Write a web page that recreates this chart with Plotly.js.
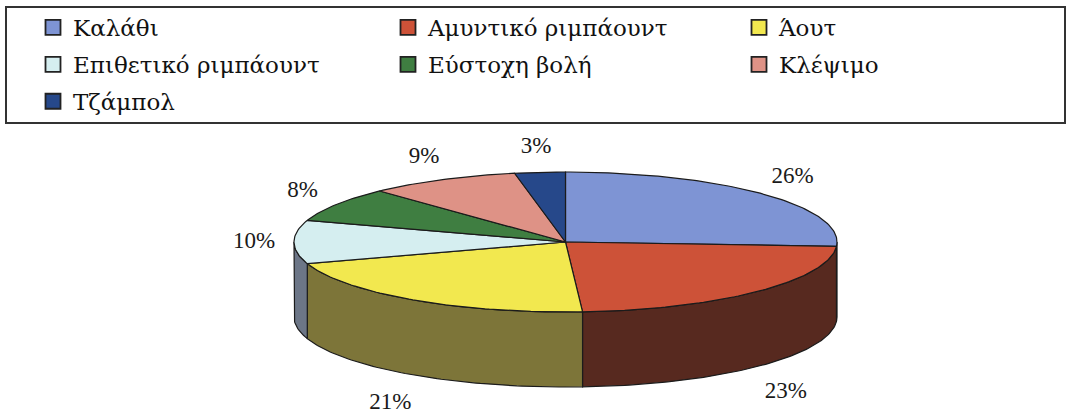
<!DOCTYPE html>
<html>
<head>
<meta charset="utf-8">
<script src="https://cdn.plot.ly/plotly-3.0.1.min.js"></script>
<style>
  html, body { margin: 0; padding: 0; background: #fff; }
  #chart { width: 1067px; height: 415px; }
</style>
</head>
<body>
<div id="chart"></div>
<script>
// ---- data ----
const categories = ["Καλάθι", "Αμυντικό ριμπάουντ", "Άουτ", "Επιθετικό ριμπάουντ", "Εύστοχη βολή", "Κλέψιμο", "Τζάμπολ"];
const percentages = [26, 23, 21, 10, 8, 9, 3];

// ---- style ----
const topColors  = ["#7E94D4", "#CD5238", "#F2E84F", "#D5EEF0", "#3F7E41", "#DE9286", "#26488A"];
const sideColors = ["#3E4A6C", "#57291F", "#7D7539", "#6C7687", "#1F3F21", "#704943", "#132446"];
const legendCol  = ["legend", "legend2", "legend3", "legend", "legend2", "legend3", "legend"];
const LABEL_FONT = "Liberation Serif";
const LEGEND_FONT = "DejaVu Serif";
const geo = { cx: 565.5, cy: 242, rx: 271.5, ry: 70, depth: 75 };

function pt(deg, dy) {
  const r = deg * Math.PI / 180;
  return [geo.cx + geo.rx * Math.sin(r), geo.cy - geo.ry * Math.cos(r) + (dy || 0)];
}
function arc(a, b, dy) {
  const out = [];
  const n = Math.max(2, Math.ceil(Math.abs(b - a)));
  for (let i = 0; i <= n; i++) out.push(pt(a + (b - a) * i / n, dy));
  return out;
}

const total = percentages.reduce((s, v) => s + v, 0);
const starts = [], ends = [];
let acc = 0;
percentages.forEach(v => { starts.push(acc / total * 360); acc += v; ends.push(acc / total * 360); });

const traces = [];
// side walls (front half only)
percentages.forEach((v, i) => {
  const lo = Math.max(starts[i], 90), hi = Math.min(ends[i], 270);
  if (hi <= lo) return;
  const pts = arc(lo, hi, 0).concat(arc(hi, lo, geo.depth));
  pts.push(pts[0]);
  traces.push({
    type: "scatter", mode: "lines", fill: "toself",
    x: pts.map(p => p[0]), y: pts.map(p => p[1]),
    fillcolor: sideColors[i], line: { color: "#1b1b1b", width: 1.2 },
    hoverinfo: "skip", showlegend: false
  });
});
// top faces
percentages.forEach((v, i) => {
  const pts = [[geo.cx, geo.cy]].concat(arc(starts[i], ends[i], 0));
  pts.push([geo.cx, geo.cy]);
  traces.push({
    type: "scatter", mode: "lines", fill: "toself",
    x: pts.map(p => p[0]), y: pts.map(p => p[1]),
    fillcolor: topColors[i], line: { color: "#1b1b1b", width: 1.2 },
    hoverinfo: "text", text: categories[i] + ": " + v + "%", hoveron: "fills",
    showlegend: false
  });
});
// percentage labels
const lx = [], ly = [], lt = [];
percentages.forEach((v, i) => {
  const m = (starts[i] + ends[i]) / 2 * Math.PI / 180;
  const c = Math.cos(m), s = Math.sin(m);
  lx.push(geo.cx + (geo.rx + 40) * s);
  ly.push(c > -0.1 ? geo.cy - (geo.ry + 25) * c : geo.cy - (geo.ry + 25) * c + geo.depth + 8);
  lt.push(v + "%");
});
traces.push({
  type: "scatter", mode: "text", x: lx, y: ly, text: lt,
  textposition: "middle center",
  textfont: { family: LABEL_FONT, size: 23, color: "#1a1a1a" },
  hoverinfo: "skip", showlegend: false
});
// legend entries
categories.forEach((c, i) => {
  traces.push({
    type: "scatter", mode: "markers", x: [null], y: [null], name: c,
    legend: legendCol[i], legendgroup: "g" + i,
    marker: { symbol: "square", size: 15, color: topColors[i], line: { color: "#222", width: 1.8 } },
    hoverinfo: "skip"
  });
});

const legendBase = {
  orientation: "v", yanchor: "top", xanchor: "left", y: 1 - 6 / 415,
  font: { family: LEGEND_FONT, size: 23, color: "#111" },
  bgcolor: "rgba(0,0,0,0)", borderwidth: 0, tracegroupgap: 4,
  itemclick: false, itemdoubleclick: false
};

const layout = {
  width: 1067, height: 415,
  margin: { l: 0, r: 0, t: 0, b: 0 },
  paper_bgcolor: "#fff", plot_bgcolor: "#fff",
  xaxis: { range: [0, 1067], visible: false, fixedrange: true },
  yaxis: { range: [415, 0], visible: false, fixedrange: true },
  showlegend: true,
  legend:  Object.assign({}, legendBase, { x: 33 / 1067 }),
  legend2: Object.assign({}, legendBase, { x: 388 / 1067 }),
  legend3: Object.assign({}, legendBase, { x: 739 / 1067 }),
  shapes: [{
    type: "rect", xref: "paper", yref: "paper",
    x0: 6 / 1067, x1: 1065 / 1067, y0: 1 - 7 / 415, y1: 1 - 123 / 415,
    line: { color: "#333", width: 2 }, fillcolor: "rgba(0,0,0,0)"
  }]
};

Plotly.newPlot("chart", traces, layout, { displayModeBar: false });
</script>
</body>
</html>
